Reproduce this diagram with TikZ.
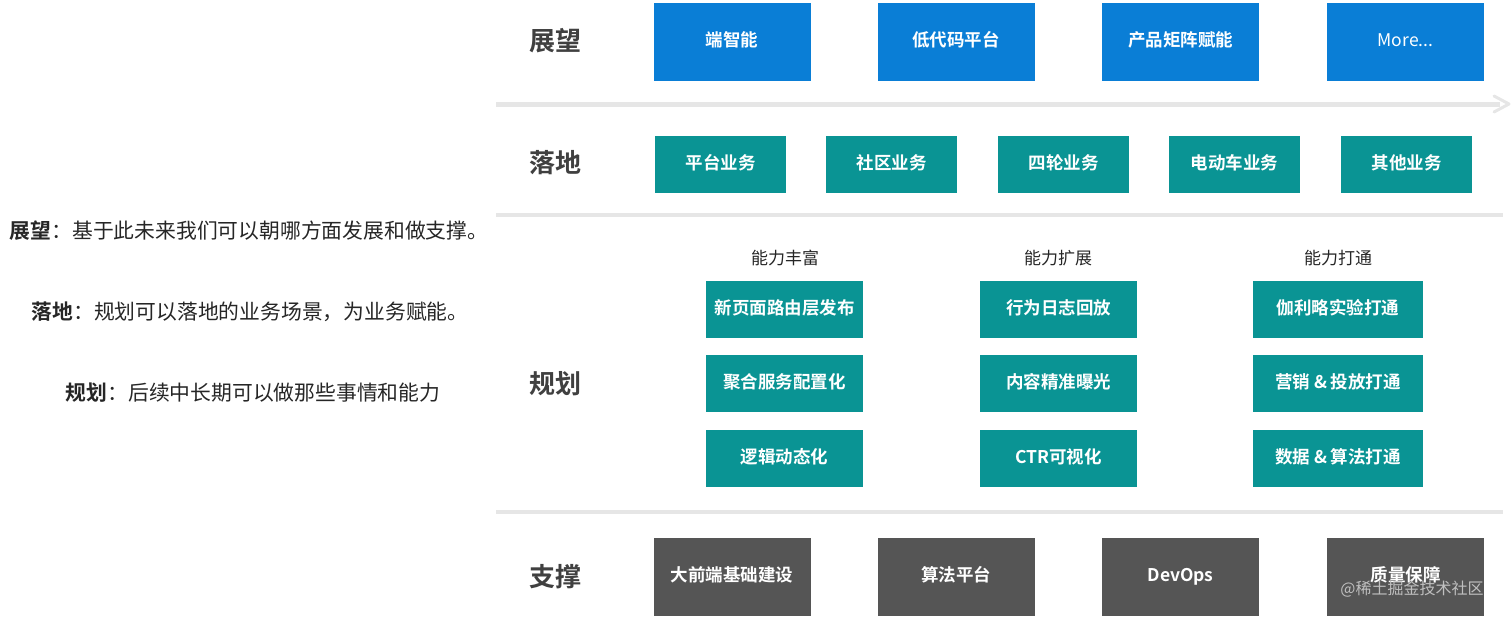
\documentclass[tikz,border=0pt]{standalone}
\usepackage{fontspec}
\setmainfont{Noto Sans CJK SC}
\newfontfamily\cjkb{Noto Sans CJK SC Bold}
\begin{document}
\begin{tikzpicture}[x=1pt,y=-1pt,
  box/.style={inner sep=0pt,text=white,text height=13pt,text depth=3pt,font=\cjkb\fontsize{17.5}{20}\selectfont},
  sec/.style={font=\cjkb\fontsize{26}{28}\selectfont,text=black!75},
  hdr/.style={font=\fontsize{17}{19}\selectfont,text=black!85},
  note/.style={font=\fontsize{20.8}{23}\selectfont,text=black!85}]
\useasboundingbox (0,0) rectangle (1512,619);
\definecolor{bl}{HTML}{0A7ED6}
\definecolor{tl}{HTML}{0A9494}
\definecolor{dg}{HTML}{555555}
\definecolor{ln}{HTML}{E6E6E6}
\newcommand{\bx}[7]{\node[box,fill=#6,minimum width=#3pt,minimum height=#4pt] (#7) at (#1,#2) {#5};}
% section labels
\node[sec] (s1) at (555,41) {展望};
\node[sec] (s2) at (555,163) {落地};
\node[sec] (s3) at (555,384) {规划};
\node[sec] (s4) at (555,577) {支撑};
% arrow and separators
\coordinate (a1) at (496,104); \coordinate (a2) at (1509,104);
\draw[ln,line width=5pt] (a1) -- (1500,104);
\draw[ln,line width=3pt,line cap=round,line join=round] (1494,96) -- (a2) -- (1494,112);
\coordinate (l1) at (496,215); \coordinate (l2) at (1503,215);
\draw[ln,line width=4pt] (l1) -- (l2);
\coordinate (m1) at (496,512); \coordinate (m2) at (1503,512);
\draw[ln,line width=4pt] (m1) -- (m2);
% row 1
\bx{732}{41.5}{157}{78}{端智能}{bl}{b1}
\bx{956}{41.5}{157}{78}{低代码平台}{bl}{b2}
\bx{1180.5}{41.5}{157}{78}{产品矩阵赋能}{bl}{b3}
\bx{1405.5}{41.5}{157}{78}{\fontspec{Noto Sans CJK SC}More...}{bl}{b4}
% row 2
\bx{720.5}{164}{131}{57}{平台业务}{tl}{c1}
\bx{891.5}{164}{131}{57}{社区业务}{tl}{c2}
\bx{1063.5}{164}{131}{57}{四轮业务}{tl}{c3}
\bx{1234.5}{164}{131}{57}{电动车业务}{tl}{c4}
\bx{1406.5}{164}{131}{57}{其他业务}{tl}{c5}
% headers
\node[hdr] (h1) at (785,258) {能力丰富};
\node[hdr] (h2) at (1058,258) {能力扩展};
\node[hdr] (h3) at (1338,258) {能力打通};
% plan
\bx{784.5}{309.5}{157}{57}{新页面路由层发布}{tl}{p11}
\bx{784.5}{383.5}{157}{57}{聚合服务配置化}{tl}{p12}
\bx{784.5}{458.5}{157}{57}{逻辑动态化}{tl}{p13}
\bx{1058.5}{309.5}{157}{57}{行为日志回放}{tl}{p21}
\bx{1058.5}{383.5}{157}{57}{内容精准曝光}{tl}{p22}
\bx{1058.5}{458.5}{157}{57}{CTR可视化}{tl}{p23}
\bx{1338}{309.5}{170}{57}{伽利略实验打通}{tl}{p31}
\bx{1338}{383.5}{170}{57}{营销 \& 投放打通}{tl}{p32}
\bx{1338}{458.5}{170}{57}{数据 \& 算法打通}{tl}{p33}
% support
\bx{732}{576.5}{157}{78}{大前端基础建设}{dg}{d1}
\bx{956}{576.5}{157}{78}{算法平台}{dg}{d2}
\bx{1180.5}{576.5}{157}{78}{DevOps}{dg}{d3}
\bx{1405.5}{576.5}{157}{78}{质量保障}{dg}{d4}
\node[font=\fontsize{16}{18}\selectfont,text=black!25] (wm) at (1412,589) {@稀土掘金技术社区};
% notes
\node[note] (n1) at (249,231) {{\cjkb 展望}：基于此未来我们可以朝哪方面发展和做支撑。};
\node[note] (n2) at (250,312) {{\cjkb 落地}：规划可以落地的业务场景，为业务赋能。};
\node[note] (n3) at (253,393) {{\cjkb 规划}：后续中长期可以做那些事情和能力};
\end{tikzpicture}
\end{document}
